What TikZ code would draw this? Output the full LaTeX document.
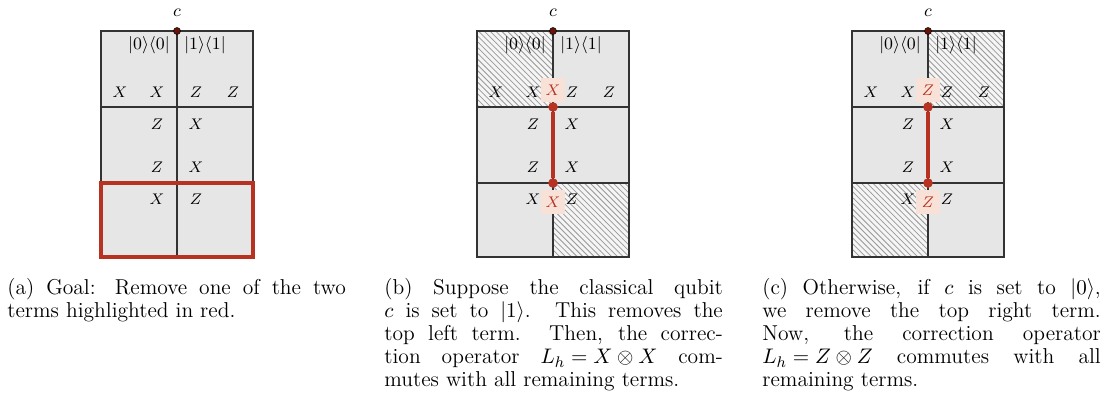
\documentclass[tikz,border=0pt]{standalone}
\usetikzlibrary{patterns}

\definecolor{cellgray}{HTML}{E6E6E6}
\definecolor{gridline}{HTML}{333333}
\definecolor{hlred}{HTML}{B83222}
\definecolor{hlpink}{HTML}{F8E2D8}
\definecolor{ctrldot}{HTML}{6A1208}

\begin{document}
\begin{tikzpicture}[
        x=0.52pt, y=-0.52pt,
        cellfill/.style={fill=cellgray},
        hatched/.style={fill=gray!8, postaction={pattern=north west lines, pattern color=gray!80}},
        grid/.style={draw=gridline, line width=0.8pt},
        pauli/.style={font=\footnotesize, inner sep=0pt},
        proj/.style={font=\small, inner sep=0pt},
        hlterm/.style={fill=hlpink, text=hlred, font=\footnotesize, minimum size=12pt, inner sep=0pt},
        reddot/.style={circle, fill=hlred, inner sep=0pt, minimum size=5pt},
        cdot/.style={circle, fill=ctrldot, draw=black, line width=0.3pt, inner sep=0pt, minimum size=3.6pt},
        corr/.style={draw=hlred, line width=1.8pt},
        goalbox/.style={draw=hlred, line width=1.6pt},
        caption/.style={text width=176pt, align=justify, inner sep=0pt, anchor=north west,
            font=\fontsize{11.2}{12}\selectfont}
        ]
        \useasboundingbox (0,0) rectangle (1104,418);

        % cell backgrounds
        \foreach \s in {0,376,751}
            \fill[cellfill, shift={(\s,0)}] (101,31) rectangle (253,257);

        % removed terms
        \fill[hatched, shift={(376,0)}] (101,31) rectangle (177,107);
        \fill[hatched, shift={(376,0)}] (177,183) rectangle (253,257);
        \fill[hatched, shift={(751,0)}] (177,31) rectangle (253,107);
        \fill[hatched, shift={(751,0)}] (101,183) rectangle (177,257);

        % grid and Pauli terms
        \foreach \p/\s in {a/0, b/376, c/751} {
            \begin{scope}[shift={(\s,0)}]
                \draw[grid] (101,31) rectangle (253,257);
                \draw[grid] (177,31) -- (177,257);
                \draw[grid] (101,107) -- (253,107);
                \draw[grid] (101,183) -- (253,183);

                \node (\p-clabel) at (177,13) {\small $c$};
                \node (\p-ctrl) [cdot] at (177,31) {};
                \node (\p-proj0) [proj] at (149,45) {$|0\rangle\langle 0|$};
                \node (\p-proj1) [proj] at (205,45) {$|1\rangle\langle 1|$};

                \node (\p-t1) [pauli] at (120,92) {$X$};
                \node (\p-t2) [pauli] at (157,92) {$X$};
                \node (\p-t3) [pauli] at (196,92) {$Z$};
                \node (\p-t4) [pauli] at (233,92) {$Z$};
                \node (\p-m1) [pauli] at (157,124) {$Z$};
                \node (\p-m2) [pauli] at (196,124) {$X$};
                \node (\p-m3) [pauli] at (157,167) {$Z$};
                \node (\p-m4) [pauli] at (196,167) {$X$};
                \node (\p-b1) [pauli] at (157,199) {$X$};
                \node (\p-b2) [pauli] at (196,199) {$Z$};
            \end{scope}
        }

        % (a) goal
        \draw[goalbox] (101,183) rectangle (253,257);

        % (b) c = |1>
        \node (b-top) [hlterm] at (553,90) {$X$};
        \node (b-bot) [hlterm] at (553,202) {$X$};
        \node (b-d1) [reddot] at (553,107) {};
        \node (b-d2) [reddot] at (553,183) {};
        \draw[corr] (b-d1) -- (b-d2);

        % (c) c = |0>
        \node (c-top) [hlterm] at (928,90) {$Z$};
        \node (c-bot) [hlterm] at (928,202) {$Z$};
        \node (c-d1) [reddot] at (928,107) {};
        \node (c-d2) [reddot] at (928,183) {};
        \draw[corr] (c-d1) -- (c-d2);

        % captions
        \node (cap-a) [caption] at (7,278) {(a) Goal: Remove one of the two\linebreak terms highlighted in red.};
        \node (cap-b) [caption] at (384,278) {(b) Suppose the classical qubit\linebreak $c$ is set to $|1\rangle$. This removes the\linebreak top left term. Then, the correc-\linebreak tion operator ${L_h = X \otimes X}$ com-\linebreak mutes with all remaining terms.};
        \node (cap-c) [caption] at (762,278) {(c) Otherwise, if $c$ is set to $|0\rangle$,\linebreak we remove the top right term.\linebreak Now, the correction operator\linebreak ${L_h = Z \otimes Z}$ commutes with all\linebreak remaining terms.};
    \end{tikzpicture}
\end{document}
